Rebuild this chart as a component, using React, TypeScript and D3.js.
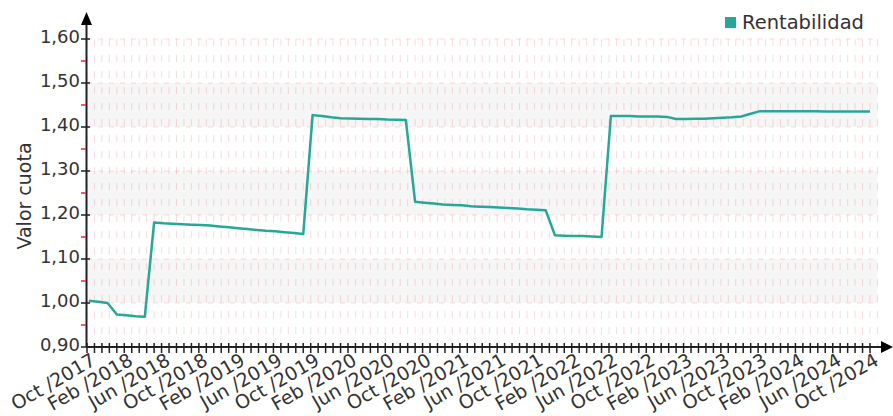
import React from "react";
import * as d3 from "d3";

const seriesName = "Rentabilidad";
// monthly values, Oct 2017 .. Oct 2024
const values: number[] = [
  1.005, 1.003, 1.0, 0.974, 0.972, 0.970, 0.969,
  1.183, 1.181, 1.180, 1.179, 1.178, 1.177, 1.176, 1.174, 1.172, 1.170, 1.168, 1.166, 1.164, 1.163, 1.161, 1.159, 1.157,
  1.427, 1.425, 1.422, 1.420, 1.4195, 1.419, 1.418, 1.418, 1.417, 1.4165, 1.416,
  1.230, 1.228, 1.226, 1.224, 1.223, 1.222, 1.220, 1.219, 1.218, 1.217, 1.216, 1.215, 1.213, 1.212, 1.211,
  1.154, 1.153, 1.152, 1.152, 1.151, 1.150,
  1.425, 1.425, 1.425, 1.424, 1.424, 1.424, 1.423, 1.418, 1.418, 1.419, 1.419, 1.420, 1.421, 1.422, 1.424, 1.430,
  1.436, 1.436, 1.436, 1.436, 1.436, 1.436, 1.436, 1.435, 1.435, 1.435, 1.435, 1.435, 1.435,
];
const xLabels: string[] = [
  "Oct /2017", "Feb /2018", "Jun /2018", "Oct /2018", "Feb /2019", "Jun /2019",
  "Oct /2019", "Feb /2020", "Jun /2020", "Oct /2020", "Feb /2021", "Jun /2021",
  "Oct /2021", "Feb /2022", "Jun /2022", "Oct /2022", "Feb /2023", "Jun /2023",
  "Oct /2023", "Feb /2024", "Jun /2024", "Oct /2024",
];
const yTicks: number[] = [0.9, 1.0, 1.1, 1.2, 1.3, 1.4, 1.5, 1.6];
const yMinorTicks: number[] = [0.95, 1.05, 1.15, 1.25, 1.35, 1.45, 1.55];
const bandStarts: number[] = [1.0, 1.2, 1.4];
const yTitle = "Valor cuota";

const W = 893;
const H = 416;
const COLOR = "#25a896";
const FONT = "'DejaVu Sans', Verdana, sans-serif";

export default function App() {
  const nMonths = 84;
  const x0 = 87;
  const x1 = 870;
  const x = d3.scaleLinear().domain([0, nMonths]).range([x0, x1]);
  const y = d3.scaleLinear().domain([0.9, 1.6]).range([347, 39]);
  const plotRight = 877.5;
  const minorPerLabel = 5;
  const labelStep = 4;
  const nTicks = (xLabels.length - 1) * minorPerLabel;
  const tickMonths = d3.range(0, nTicks + 1).map((k) => (k * labelStep) / minorPerLabel);
  const pts = values.map((v, i) => [x(Math.min(i + 0.2, nMonths)), y(v)] as [number, number]);
  const line = d3.line();
  const fmt = (v: number) => d3.format(".2f")(v).replace(".", ",");
  const axisY = y(0.9);
  const gridColor = "rgba(240,70,70,0.2)";

  return (
    <svg width={W} height={H} style={{ position: "absolute", left: 0, top: 0, background: "#fff" }} fontFamily={FONT}>
      {bandStarts.map((b) => (
        <rect key={b} x={x0} y={y(b + 0.1)} width={plotRight - x0} height={y(b) - y(b + 0.1)} fill="#f6f6f6" />
      ))}
      {/* vertical grid */}
      {tickMonths.map((m, k) => (
        <line key={"vg" + k} x1={x(m)} x2={x(m)} y1={y(1.6)} y2={axisY} stroke={gridColor} strokeWidth={1} strokeDasharray="7,9" />
      ))}
      <line x1={plotRight} x2={plotRight} y1={y(1.6)} y2={axisY} stroke={gridColor} strokeWidth={1} strokeDasharray="7,9" />
      {/* horizontal grid */}
      {yTicks.slice(1).map((t) => (
        <line key={"hg" + t} x1={x0} x2={plotRight} y1={y(t)} y2={y(t)} stroke={gridColor} strokeWidth={1} strokeDasharray="5,6" />
      ))}
      {/* series line */}
      <path d={line(pts) || ""} fill="none" stroke={COLOR} strokeWidth={2.5} strokeLinejoin="round" />
      {/* y axis */}
      <line x1={86.5} x2={86.5} y1={axisY} y2={20} stroke="#222" strokeWidth={2} />
      <polygon points="86.5,12 81,25 92,25" fill="#000" />
      {yTicks.map((t) => (
        <g key={"yt" + t}>
          <line x1={81} x2={90} y1={y(t)} y2={y(t)} stroke="#222" strokeWidth={1.5} />
          <text x={80} y={y(t) + 4} textAnchor="end" fontSize={18} fill="#333">{fmt(t)}</text>
        </g>
      ))}
      {yMinorTicks.map((t) => (
        <line key={"ym" + t} x1={81} x2={86} y1={y(t)} y2={y(t)} stroke="#ff2020" strokeWidth={1.5} />
      ))}
      <text transform={`translate(31,${(y(0.9) + y(1.6)) / 2 + 3}) rotate(-90)`} textAnchor="middle" fontSize={19} fill="#333">{yTitle}</text>
      {/* x axis */}
      <line x1={86} x2={886} y1={axisY} y2={axisY} stroke="#222" strokeWidth={2} />
      <polygon points={`893,${axisY} 881,${axisY - 6} 881,${axisY + 6}`} fill="#000" />
      {tickMonths.map((m, k) => (
        <line key={"xt" + k} x1={x(m)} x2={x(m)} y1={axisY - 4} y2={axisY + 6} stroke="#222" strokeWidth={1.5} />
      ))}
      {xLabels.map((lab, k) => (
        <text key={"xl" + k} transform={`translate(${x(k * labelStep) + 10},${axisY + 17}) rotate(-30)`} textAnchor="end" fontSize={19} fill="#333">{lab}</text>
      ))}
      {/* legend */}
      <rect x={725} y={17} width={11} height={11} fill={COLOR} />
      <text x={742} y={29} fontSize={19.5} fill="#333">{seriesName}</text>
    </svg>
  );
}
